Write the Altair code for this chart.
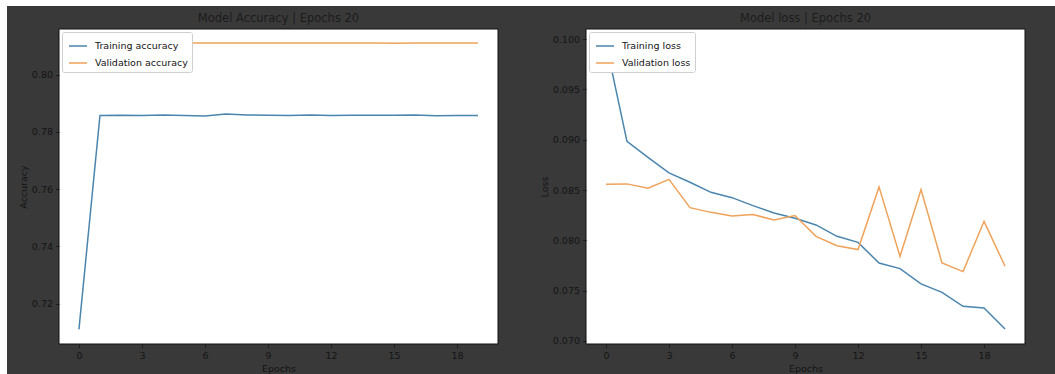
import altair as alt
import pandas as pd

epochs = list(range(20))
train_acc = [0.7110, 0.7857, 0.7858, 0.7857, 0.7859, 0.7857, 0.7855, 0.7862, 0.7859, 0.7858,
             0.7857, 0.7859, 0.7857, 0.7858, 0.7858, 0.7858, 0.7859, 0.7856, 0.7857, 0.7857]
val_acc = [0.8110, 0.8110, 0.8110, 0.8110, 0.8110, 0.8110, 0.8110, 0.8110, 0.8110, 0.8110,
           0.8110, 0.8110, 0.8110, 0.8110, 0.8110, 0.8109, 0.8110, 0.8110, 0.8110, 0.8110]
train_loss = [0.0996, 0.08984, 0.08825, 0.08670, 0.08577, 0.08477, 0.08424, 0.08345, 0.08272, 0.08219,
              0.08153, 0.08040, 0.07980, 0.07775, 0.07719, 0.07567, 0.07483, 0.07344, 0.07328, 0.07119]
val_loss = [0.08557, 0.08561, 0.08517, 0.08606, 0.08325, 0.08278, 0.08243, 0.08256, 0.08203, 0.08246,
            0.08040, 0.07947, 0.07908, 0.08531, 0.07841, 0.08504, 0.07775, 0.07689, 0.08189, 0.07742]

x_ticks = [0, 3, 6, 9, 12, 15, 18]
acc_ticks = [0.72, 0.74, 0.76, 0.78, 0.80]
loss_ticks = [0.070, 0.075, 0.080, 0.085, 0.090, 0.095, 0.100]

BG = "#393939"
BLUE = "#4a85ad"
ORANGE = "#efa25a"
TXT = "#141414"
FONT = "DejaVu Sans"
W, H = 439, 315


def panel(train, val, train_name, val_name, title, ytitle, ydomain, yticks, yfmt, left_ext, right_ext):
    df = pd.DataFrame({
        "Epoch": epochs + epochs,
        "value": train + val,
        "series": [train_name] * len(train) + [val_name] * len(val),
    })
    one = pd.DataFrame({"k": [0]})
    dark = alt.Chart(one).mark_rect(color=BG).encode(
        x=alt.value(-left_ext), x2=alt.value(W + right_ext),
        y=alt.value(-23), y2=alt.value(H + 30))
    white = alt.Chart(one).mark_rect(fill="white", stroke="#111111", strokeWidth=1).encode(
        x=alt.value(0), x2=alt.value(W), y=alt.value(0), y2=alt.value(H))
    ttl = alt.Chart(one).mark_text(font=FONT, fontSize=11.5, color="#1c1c1c",
                                   align="center", baseline="alphabetic").encode(
        x=alt.value(W / 2), y=alt.value(-7.5), text=alt.value(title))
    axis_common = dict(zindex=1, labelFont=FONT, labelFontSize=9.5, labelColor=TXT,
                       titleFont=FONT, titleFontSize=9.5, titleColor=TXT, titleFontWeight="normal",
                       tickColor=TXT, tickSize=3.5, tickWidth=0.8, domain=False, grid=False,
                       labelPadding=3, titlePadding=3)
    lines = alt.Chart(df).mark_line(strokeWidth=1.5).encode(
        x=alt.X("Epoch:Q",
                scale=alt.Scale(domain=[-0.95, 19.95], nice=False, zero=False),
                axis=alt.Axis(values=x_ticks, format="d", title="Epochs", **axis_common)),
        y=alt.Y("value:Q",
                scale=alt.Scale(domain=ydomain, nice=False, zero=False),
                axis=alt.Axis(values=yticks, format=yfmt, title=ytitle, **axis_common)),
        color=alt.Color("series:N",
                        scale=alt.Scale(domain=[train_name, val_name], range=[BLUE, ORANGE]),
                        legend=alt.Legend(title=None, orient="top-left", offset=3,
                                          fillColor="white", strokeColor="#cfcfcf",
                                          cornerRadius=2, padding=4,
                                          symbolType="stroke", symbolSize=324,
                                          symbolStrokeWidth=1.5, symbolOffset=2,
                                          labelFont=FONT, labelFontSize=9.5, labelColor=TXT,
                                          labelOffset=7, rowPadding=2, zindex=2)),
        order="Epoch:Q",
    )
    return alt.layer(dark, white, lines, ttl).properties(width=W, height=H)


left = panel(train_acc, val_acc, "Training accuracy", "Validation accuracy",
             "Model Accuracy | Epochs 20", "Accuracy", [0.7059, 0.8159], acc_ticks, ".2f", 52, 1)
right = panel(train_loss, val_loss, "Training loss", "Validation loss",
              "Model loss | Epochs 20", "Loss", [0.0697, 0.1010], loss_ticks, ".3f", 87, 30)

chart = alt.hconcat(left, right, spacing=0).resolve_scale(
    color="independent", x="independent", y="independent"
).resolve_legend(color="independent").properties(
    background="white",
    padding={"left": 7, "top": 6, "right": 0, "bottom": 0},
).configure_view(strokeWidth=0)

chart.save("out.html", embed_options={"renderer": "svg", "actions": False})
